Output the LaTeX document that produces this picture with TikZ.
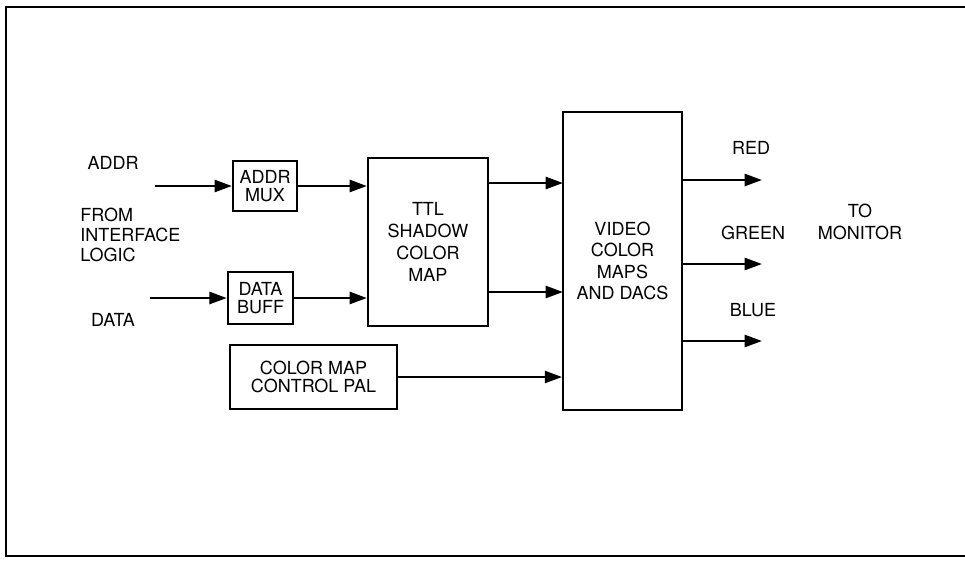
\documentclass[tikz,border=0pt]{standalone}
\usepackage{fontspec}
\setmainfont{TeX Gyre Heros}
\usepackage{tikz}
\usetikzlibrary{arrows.meta,positioning}
\tikzset{
  blockbox/.style={draw, line width=1.6pt, inner sep=0pt, align=center,
    font=\fontsize{13.5}{16}\selectfont},
  lbl/.style={align=center, inner sep=0pt, font=\fontsize{13.5}{15}\selectfont},
  arr/.style={-{Triangle[length=13pt,width=9pt]}, line width=1.9pt}
}

\begin{document}
\begin{tikzpicture}[x=0.75pt,y=-0.75pt]
        \useasboundingbox (0,0) rectangle (965,562);
        \draw[line width=1.5pt] (965,7) -- (6,7) -- (6,556) -- (965,556);
        % blocks
        \node[blockbox, minimum width=48pt, minimum height=37pt] (amux) at (265,186) {ADDR\\[-3pt]MUX};
        \node[blockbox, minimum width=49pt, minimum height=39pt] (dbuff) at (260.5,298) {DATA\\[-3pt]BUFF};
        \node[blockbox, minimum width=90pt, minimum height=126pt, font=\fontsize{13.5}{16.5}\selectfont] (ttl) at (428,242) {TTL\\SHADOW\\COLOR\\MAP};
        \node[blockbox, minimum width=89pt, minimum height=223.5pt] (video) at (622.5,261) {VIDEO\\COLOR\\MAPS\\AND DACS};
        \node[blockbox, minimum width=125pt, minimum height=48pt] (pal) at (313.5,377) {COLOR MAP\\[-2pt]CONTROL PAL};
        % labels
        \node[lbl] (addr) at (113,163) {ADDR};
        \node[lbl, align=left, anchor=west] (from) at (80,235) {FROM\\INTERFACE\\LOGIC};
        \node[lbl] (data) at (113,320) {DATA};
        \node[lbl] (red) at (751,148) {RED};
        \node[lbl] (green) at (753,233) {GREEN};
        \node[lbl] (blue) at (753,310) {BLUE};
        \node[lbl, font=\fontsize{13.5}{17}\selectfont] (mon) at (860,222) {TO\\MONITOR};
        % free ends
        \coordinate (addrin) at (155,186);
        \coordinate (datain) at (150,298);
        \coordinate (vin1) at (563,183);
        \coordinate (vin2) at (563,292);
        \coordinate (rout) at (762,180);
        \coordinate (gout) at (762,264);
        \coordinate (bout) at (762,341);
        % connectors
        \draw[arr] (addrin) -- (amux.west);
        \draw[arr] (datain) -- (dbuff.west);
        \draw[arr] (amux.east) -- (amux.east -| ttl.west);
        \draw[arr] (dbuff.east) -- (dbuff.east -| ttl.west);
        \draw[arr] (ttl.east |- vin1) -- (vin1);
        \draw[arr] (ttl.east |- vin2) -- (vin2);
        \draw[arr] (pal.east) -- (pal.east -| video.west);
        \draw[arr] (video.east |- rout) -- (rout);
        \draw[arr] (video.east |- gout) -- (gout);
        \draw[arr] (video.east |- bout) -- (bout);
      \end{tikzpicture}
\end{document}
